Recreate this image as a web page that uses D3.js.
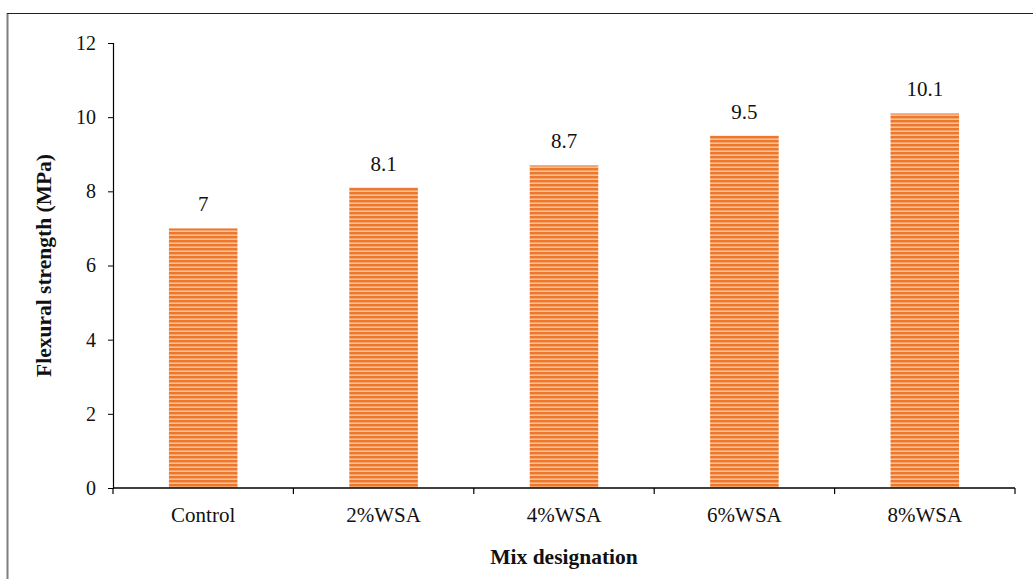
<!DOCTYPE html>
<html><head><meta charset="utf-8">
<script src="https://cdn.jsdelivr.net/npm/d3@7"></script>
<style>body{margin:0;background:#fff}svg{display:block}svg text{font-family:"Liberation Serif","Times New Roman",serif !important}</style>
</head><body>
<svg id="c" width="1033" height="579"></svg>
<script>
const categories = ["Control","2%WSA","4%WSA","6%WSA","8%WSA"];
const values = [7, 8.1, 8.7, 9.5, 10.1];
const valueLabels = ["7","8.1","8.7","9.5","10.1"];
const yTicks = [0,2,4,6,8,10,12];

const FONT = '"Liberation Serif","Times New Roman",serif';
const svg = d3.select("#c");
const m = {l:113, r:1015, t:43, b:488};

// frame
svg.append("line").attr("x1",7.5).attr("x2",7.5).attr("y1",13).attr("y2",579).attr("stroke","#7f7f7f").attr("stroke-width",2);
svg.append("line").attr("x1",7).attr("x2",1033).attr("y1",13.5).attr("y2",13.5).attr("stroke","#222").attr("stroke-width",1.2);

const defs = svg.append("defs");
const pat = defs.append("pattern").attr("id","stripe").attr("patternUnits","userSpaceOnUse").attr("width",8).attr("height",4);
pat.append("rect").attr("width",8).attr("height",4).attr("fill","#F6C09A");
pat.append("rect").attr("width",8).attr("height",2.4).attr("fill","#ED782B");

const x = d3.scaleBand().domain(categories).range([m.l, m.r]).paddingInner(0.62).paddingOuter(0.31);
const xb = d3.scaleBand().domain(categories).range([m.l, m.r]);
const y = d3.scaleLinear().domain([0,12]).range([m.b, m.t]);

svg.selectAll("rect.bar").data(values).enter().append("rect").attr("class","bar")
  .attr("x",(d,i)=>x(categories[i])).attr("width",x.bandwidth())
  .attr("y",d=>y(d)).attr("height",d=>y(0)-y(d)).attr("fill","url(#stripe)");

svg.selectAll("text.val").data(values).enter().append("text").attr("class","val")
  .attr("x",(d,i)=>x(categories[i])+x.bandwidth()/2).attr("y",d=>y(d)-17)
  .attr("text-anchor","middle").style("font-family",FONT).style("font-size","21px").attr("fill","#111").text((d,i)=>valueLabels[i]);

// y axis
const yAxis = d3.axisLeft(y).tickValues(yTicks).tickSize(5).tickPadding(12);
const ga = svg.append("g").attr("transform",`translate(${m.l},0)`).call(yAxis).attr("font-family",FONT);
ga.select(".domain").attr("stroke","#000").attr("stroke-width",1.2);
ga.selectAll(".tick line").attr("stroke","#000");
ga.selectAll("text").style("font-family",FONT).style("font-size","20px").attr("fill","#111");

// x axis
svg.append("line").attr("x1",m.l).attr("x2",m.r).attr("y1",m.b).attr("y2",m.b).attr("stroke","#000").attr("stroke-width",1.4);
const bounds = categories.map(c=>xb(c)).concat([m.r]);
svg.selectAll("line.xt").data(bounds).enter().append("line").attr("class","xt")
  .attr("x1",d=>d).attr("x2",d=>d).attr("y1",m.b).attr("y2",m.b+6).attr("stroke","#000").attr("stroke-width",1.2);
svg.selectAll("text.xl").data(categories).enter().append("text").attr("class","xl")
  .attr("x",d=>xb(d)+xb.bandwidth()/2).attr("y",m.b+34).attr("text-anchor","middle")
  .style("font-family",FONT).style("font-size","21px").attr("fill","#111").text(d=>d);

svg.append("text").attr("x",(m.l+m.r)/2).attr("y",564).attr("text-anchor","middle")
  .style("font-family",FONT).style("font-size","21.5px").attr("font-weight","bold").attr("fill","#111").text("Mix designation");
svg.append("text").attr("transform",`translate(51,${(m.t+m.b)/2}) rotate(-90)`).attr("text-anchor","middle")
  .style("font-family",FONT).style("font-size","21.5px").attr("font-weight","bold").attr("fill","#111").text("Flexural strength (MPa)");
</script>
</body></html>
